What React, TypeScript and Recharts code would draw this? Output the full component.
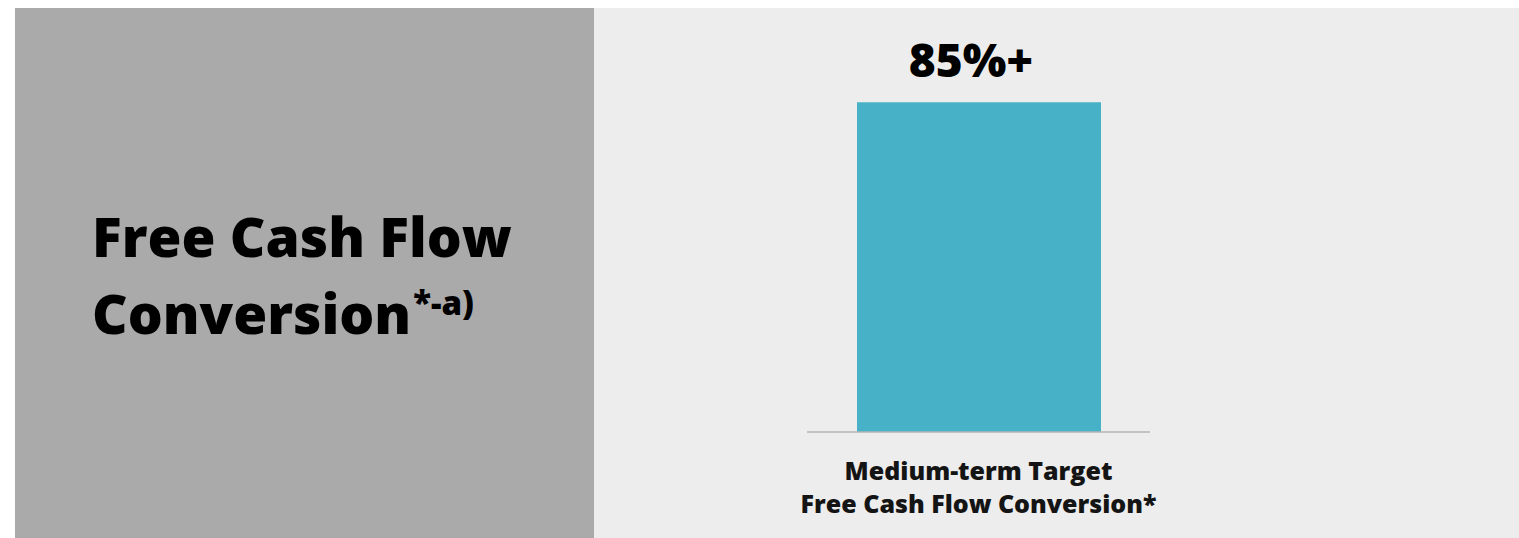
import React from 'react';
import { BarChart, Bar, XAxis, YAxis, LabelList } from 'recharts';

const categories = ['Medium-term Target|Free Cash Flow Conversion*'];
const values = [85];
const valueSuffix = '%+';
const titleLines = ['Free Cash Flow', 'Conversion'];
const titleSup = '*-a)';

const data = categories.map((c, i) => ({ name: c, value: values[i] }));

const FONT = '"Open Sans", "Noto Sans", sans-serif';

const Tick = (props: any) => {
  const { x, y, payload } = props;
  const lines = String(payload.value).split('|');
  return (
    <g>
      {lines.map((l, i) => (
        <text
          key={i}
          x={x}
          y={y + 48 + i * 33}
          textAnchor="middle"
          fontFamily={FONT}
          fontWeight={800}
          fontSize={25}
          fill="#141414"
        >
          {l}
        </text>
      ))}
    </g>
  );
};

const TopLabel = (props: any) => {
  const { x, y, width, value } = props;
  return (
    <text
      x={x + width / 2 - 8}
      y={y - 25}
      textAnchor="middle"
      fontFamily={FONT}
      fontWeight={800}
      fontSize={46}
      fill="#000"
    >
      {`${value}${valueSuffix}`}
    </text>
  );
};

export default function App() {
  return (
    <div style={{ position: 'fixed', left: 15, top: 8, width: 1504, height: 530, display: 'flex' }}>
      <div style={{ width: 579, height: 530, background: '#aaaaaa' }}>
        <svg width={579} height={530}>
          <text x={77} y={249} fontFamily={FONT} fontWeight={800} fontSize={55} fill="#000">
            {titleLines[0]}
          </text>
          <text x={77} y={326} fontFamily={FONT} fontWeight={800} fontSize={55} fill="#000">
            {titleLines[1]}
            <tspan dx={2} dy={-19} fontSize={33}>{titleSup}</tspan>
          </text>
        </svg>
      </div>
      <div style={{ width: 925, height: 530, background: '#ededed' }}>
        <BarChart
          width={925}
          height={530}
          data={data}
          margin={{ top: 36, right: 369, bottom: 6, left: 213 }}
        >
          <YAxis hide domain={[0, 100]} />
          <XAxis
            dataKey="name"
            stroke="#b5b5b5"
            strokeWidth={1.5}
            tickLine={false}
            tickSize={0}
            tickMargin={0}
            height={100}
            tick={<Tick />}
            interval={0}
          />
          <Bar dataKey="value" fill="#47b2c7" barSize={244} isAnimationActive={false}>
            <LabelList dataKey="value" content={<TopLabel />} />
          </Bar>
        </BarChart>
      </div>
    </div>
  );
}
